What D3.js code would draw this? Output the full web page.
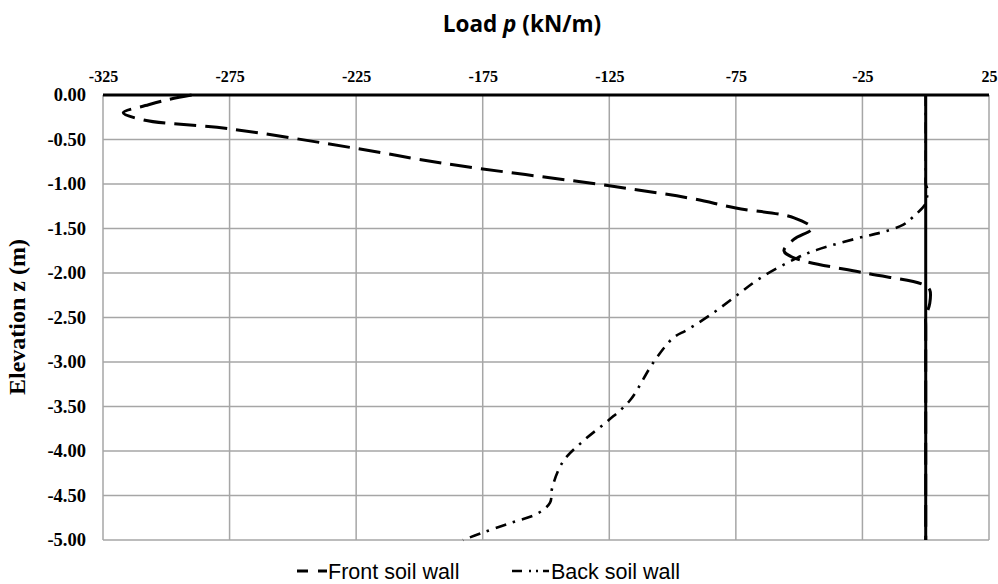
<!DOCTYPE html>
<html>
<head>
<meta charset="utf-8">
<script src="https://cdn.jsdelivr.net/npm/d3@7"></script>
<style>
  body { margin: 0; background: #fff; }
  svg { display: block; }
</style>
</head>
<body>
<svg width="998" height="584"></svg>
<script>
// ticks
const xTicks = [-325, -275, -225, -175, -125, -75, -25, 25];
const yTicks = [0, -0.5, -1, -1.5, -2, -2.5, -3, -3.5, -4, -4.5, -5];

// Front soil wall (elevation, load)
const frontZ = [0, -0.05, -0.11, -0.2, -0.28, -0.38, -0.6, -0.77, -1.02, -1.16, -1.27, -1.38, -1.5, -1.62, -1.75, -1.83, -2.0, -2.13, -2.19, -2.34, -2.5, -2.6, -5];
const frontP = [-290, -299, -307, -317, -309, -275, -225, -190, -125, -93, -75, -52, -45, -52, -56, -52, -24, -1, 1.6, 1.6, 0, 0, 0];

// Back soil wall (elevation, load)
const backZ = [0, -0.9, -1.0, -1.07, -1.15, -1.22, -1.37, -1.46, -1.54, -1.61, -1.74, -1.83, -2.06, -2.25, -2.45, -2.64, -2.73, -3.01, -3.43, -3.66, -3.88, -4.12, -4.42, -4.58, -4.7, -4.81, -4.92, -5.0];
const backP = [0, 0, 0, 0.8, 0.5, 0, -5, -9, -17, -27, -43, -50.8, -65.5, -74.6, -84, -94.3, -99.8, -107.7, -116.8, -125.5, -135, -143.3, -147.6, -148.4, -153.2, -164.2, -175.3, -182.8];

const locale = d3.formatLocale({decimal: ".", thousands: ",", grouping: [3], currency: ["", ""], minus: "-"});

const svg = d3.select("svg");
const margin = {top: 95, left: 103, right: 9, bottom: 44};
const width = 998 - margin.left - margin.right,
      height = 584 - margin.top - margin.bottom;

const x = d3.scaleLinear().domain([-325, 25]).range([margin.left, margin.left + width]);
const y = d3.scaleLinear().domain([0, -5]).range([margin.top, margin.top + height]);

// grid
const grid = svg.append("g").attr("stroke", "#a6a6a6").attr("stroke-width", 1.5);
grid.selectAll(".vg").data(xTicks).enter().append("line")
    .attr("x1", d => x(d)).attr("x2", d => x(d))
    .attr("y1", y(0)).attr("y2", y(-5));
grid.selectAll(".hg").data(yTicks).enter().append("line")
    .attr("x1", x(-325)).attr("x2", x(25))
    .attr("y1", d => y(d)).attr("y2", d => y(d));

// top axis labels
svg.append("g")
    .attr("transform", "translate(0," + (y(0) - 13) + ")")
    .call(d3.axisTop(x).tickValues(xTicks).tickSize(0).tickPadding(0).tickFormat(locale.format("d")))
    .call(g => g.select(".domain").remove())
    .selectAll("text")
    .attr("font-family", "Liberation Serif")
    .attr("font-weight", "bold")
    .attr("font-size", 16)
    .attr("fill", "#000");

// left axis labels
svg.append("g")
    .attr("transform", "translate(" + (x(-325) - 17) + ",0)")
    .call(d3.axisLeft(y).tickValues(yTicks).tickSize(0).tickPadding(0).tickFormat(locale.format(".2f")))
    .call(g => g.select(".domain").remove())
    .selectAll("text")
    .attr("font-family", "Liberation Serif")
    .attr("font-weight", "bold")
    .attr("font-size", 18.5)
    .attr("fill", "#000");

const line = d3.line()
    .x(d => x(d[1]))
    .y(d => y(d[0]))
    .curve(d3.curveCatmullRom);

svg.append("path")
    .datum(d3.zip(frontZ, frontP))
    .attr("fill", "none")
    .attr("stroke", "#000")
    .attr("stroke-width", 3)
    .attr("stroke-dasharray", "22 9")
    .attr("d", line);

svg.append("path")
    .datum(d3.zip(backZ, backP))
    .attr("fill", "none")
    .attr("stroke", "#000")
    .attr("stroke-width", 2.6)
    .attr("stroke-dasharray", "11 7 2.5 7")
    .attr("d", line);

// axis lines: horizontal at z=0, vertical at p=0
svg.append("line")
    .attr("x1", x(-325)).attr("x2", x(25))
    .attr("y1", y(0)).attr("y2", y(0))
    .attr("stroke", "#000").attr("stroke-width", 3);

svg.append("line")
    .attr("x1", x(0)).attr("x2", x(0))
    .attr("y1", y(0)).attr("y2", y(-5))
    .attr("stroke", "#000").attr("stroke-width", 3);

// titles
const title = svg.append("text")
    .attr("x", 522).attr("y", 32)
    .attr("text-anchor", "middle")
    .attr("font-family", "Open Sans")
    .attr("font-weight", "bold")
    .attr("font-size", 22.5)
    .attr("fill", "#000");
title.append("tspan").text("Load ");
title.append("tspan").attr("font-style", "italic").text("p");
title.append("tspan").text(" (kN/m)");

svg.append("text")
    .attr("transform", "translate(25,317) rotate(-90)")
    .attr("text-anchor", "middle")
    .attr("font-family", "Liberation Serif")
    .attr("font-weight", "bold")
    .attr("font-size", 24)
    .attr("fill", "#000")
    .text("Elevation z (m)");

// legend
const legend = svg.append("g");
legend.append("line")
    .attr("x1", 297).attr("x2", 327).attr("y1", 571).attr("y2", 571)
    .attr("stroke", "#000").attr("stroke-width", 3)
    .attr("stroke-dasharray", "11 10");
legend.append("text")
    .attr("x", 328).attr("y", 579)
    .attr("font-family", "Liberation Sans")
    .attr("font-size", 21.5)
    .text("Front soil wall");
legend.append("line")
    .attr("x1", 512).attr("x2", 549).attr("y1", 571).attr("y2", 571)
    .attr("stroke", "#000").attr("stroke-width", 2.6)
    .attr("stroke-dasharray", "10 7 2 5 2 5 6");
legend.append("text")
    .attr("x", 551).attr("y", 579)
    .attr("font-family", "Liberation Sans")
    .attr("font-size", 21.5)
    .text("Back soil wall");
</script>
</body>
</html>
